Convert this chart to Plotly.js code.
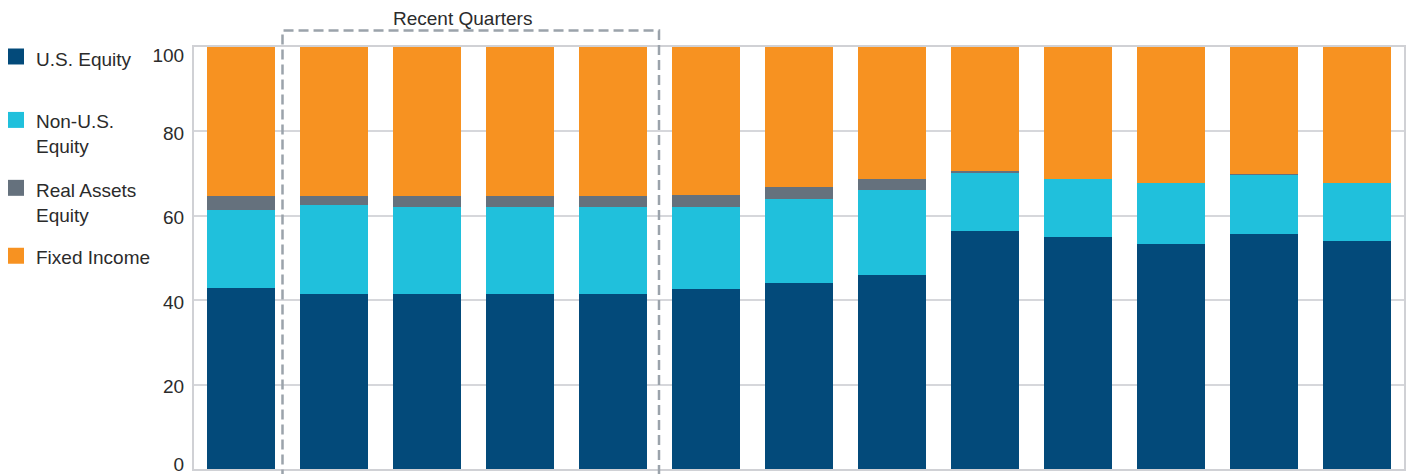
<!DOCTYPE html>
<html>
<head>
<meta charset="utf-8">
<script src="https://cdn.plot.ly/plotly-3.0.1.min.js"></script>
<style>
  html, body { margin: 0; padding: 0; background: #ffffff; }
  #chart { width: 1408px; height: 474px; }
</style>
</head>
<body>
<div id="chart"></div>
<script>
// ---- data ----
const categories = ["P1","P2","P3","P4","P5","P6","P7","P8","P9","P10","P11","P12","P13"];
const usEquity    = [43.0, 41.4, 41.4, 41.4, 41.4, 42.6, 44.1, 46.0, 56.3, 55.0, 53.4, 55.7, 54.1];
const nonUsEquity = [18.4, 21.2, 20.7, 20.7, 20.7, 19.5, 19.9, 20.2, 13.9, 13.8, 14.4, 14.0, 13.7];
const realAssets  = [3.4, 2.2, 2.7, 2.7, 2.7, 2.9, 2.9, 2.6, 0.3, 0.0, 0.0, 0.3, 0.0];
const fixedIncome = [35.2, 35.2, 35.2, 35.2, 35.2, 35.0, 33.1, 31.2, 29.5, 31.2, 32.2, 30.0, 32.2];
const seriesNames = ["U.S. Equity", "Non-U.S.<br>Equity", "Real Assets<br>Equity", "Fixed Income"];
const yTicksInner = [20, 40, 60, 80];
const yTickTop = [100];
const yTickBottom = [0];
const boxLabel = "Recent Quarters";

// ---- style ----
const colors = ["#034a7a", "#20c0dc", "#65717d", "#f79221"];
const FONT = "Liberation Sans, Arial, Helvetica, sans-serif";
const FS = 19;
const W = 1408, H = 474;
const M = { l: 194, r: 4, t: 47, b: 4.5 };
const pw = W - M.l - M.r, ph = H - M.t - M.b;
const px = X => (X - M.l) / pw;        // pixel -> paper x
const py = Y => (H - M.b - Y) / ph;    // pixel -> paper y

const values = [usEquity, nonUsEquity, realAssets, fixedIncome];
const traces = values.map((v, i) => ({
  type: "bar",
  x: categories,
  y: v,
  name: seriesNames[i].replace("<br>", " "),
  marker: { color: colors[i], line: { width: 0 } },
  hoverinfo: "skip",
  showlegend: false
}));
// empty helper traces so the two label-only overlay axes are drawn
["y2", "y3"].forEach(ax => traces.push({
  type: "scatter", x: [], y: [], yaxis: ax, hoverinfo: "skip", showlegend: false
}));

// custom legend (squares + text) on the left
const legendSquares = [48.5, 112, 180, 248];
const legendTextY = [60, 134, 203, 258];
const shapes = [];
const annotations = [];
seriesNames.forEach((n, i) => {
  shapes.push({
    type: "rect", xref: "paper", yref: "paper", layer: "above",
    x0: px(8), x1: px(24), y0: py(legendSquares[i] + 16), y1: py(legendSquares[i]),
    fillcolor: colors[i], line: { width: 0 }
  });
  annotations.push({
    xref: "paper", yref: "paper", x: px(34), y: py(legendTextY[i]),
    xanchor: "left", yanchor: "middle", align: "left", showarrow: false,
    text: n, font: { family: FONT, size: FS, color: "#2b2b2b" }
  });
});

// dashed "Recent Quarters" box (open at bottom)
const bx0 = px(282.5), bx1 = px(659), by1 = py(30.5), by0 = py(480);
shapes.push({
  type: "path", xref: "paper", yref: "paper", layer: "above",
  path: `M${bx0},${by0} L${bx0},${by1} L${bx1},${by1} L${bx1},${by0}`,
  line: { color: "#9ba3ab", width: 2.5, dash: "10px,5px" }
});
annotations.push({
  xref: "paper", yref: "paper", x: px(462.5), y: py(18.5),
  xanchor: "center", yanchor: "middle", showarrow: false,
  text: boxLabel, font: { family: FONT, size: FS, color: "#2b2b2b" }
});

const tickFont = { family: FONT, size: FS, color: "#2b2b2b" };
const AXLINE = "#d0d1d5";
const labelAxis = (vals, shift) => ({
  overlaying: "y", side: "left", anchor: "x",
  range: [0, 100],
  tickvals: vals, ticktext: vals.map(String),
  showgrid: false, zeroline: false,
  showline: true, linecolor: AXLINE, linewidth: 2,
  ticks: "", ticklabelstandoff: 4, ticklabelshift: shift,
  ticklabeloverflow: "allow",
  tickfont: tickFont, fixedrange: true
});

const layout = {
  width: W, height: H,
  margin: M,
  paper_bgcolor: "#ffffff", plot_bgcolor: "#ffffff",
  barmode: "stack",
  bargap: 0.27,
  showlegend: false,
  font: { family: FONT, size: FS, color: "#2b2b2b" },
  xaxis: {
    type: "category",
    showticklabels: false,
    showgrid: false,
    zeroline: false,
    showline: true, mirror: true,
    linecolor: AXLINE, linewidth: 2,
    fixedrange: true
  },
  yaxis: {
    range: [0, 100],
    tickvals: [0].concat(yTicksInner, [100]),
    ticktext: [""].concat(yTicksInner.map(String), [""]),
    showgrid: true, gridcolor: "#d6d7db", gridwidth: 2,
    zeroline: false,
    showline: true, mirror: true,
    linecolor: AXLINE, linewidth: 2,
    ticks: "",
    ticklabelstandoff: 4,
    ticklabelshift: 2,
    ticklabeloverflow: "allow",
    tickfont: tickFont,
    fixedrange: true
  },
  yaxis2: labelAxis(yTickTop, 8),
  yaxis3: labelAxis(yTickBottom, -5),
  shapes: shapes,
  annotations: annotations
};

Plotly.newPlot("chart", traces, layout, { displayModeBar: false, staticPlot: true });
</script>
</body>
</html>
